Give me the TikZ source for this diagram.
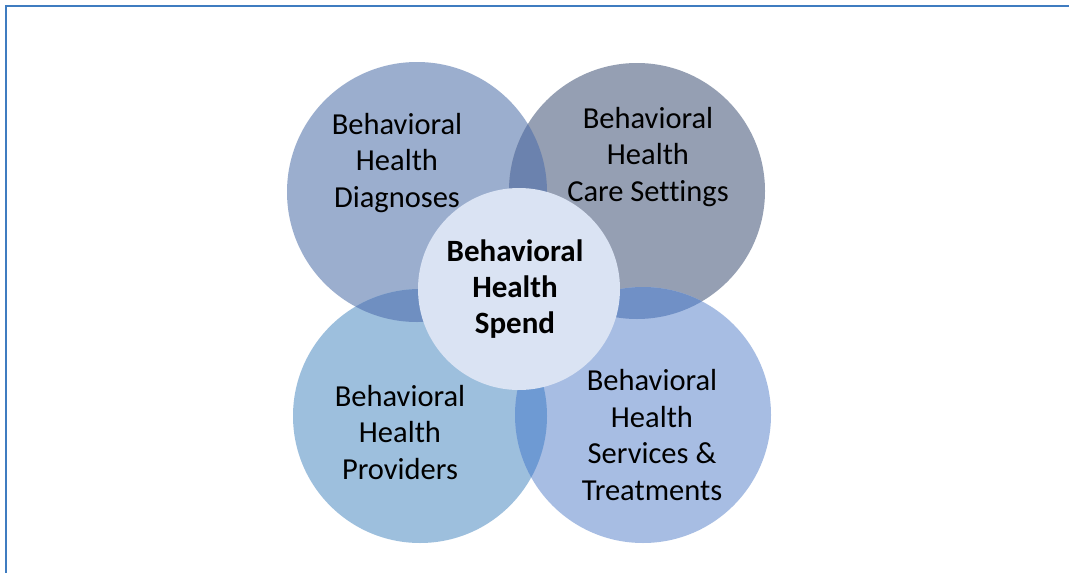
\documentclass[tikz,border=0pt]{standalone}
\usepackage{fontspec}
\setmainfont[Ligatures=NoCommon]{Carlito}
\definecolor{cTL}{HTML}{9BAECE}
\definecolor{cTR}{HTML}{959FB3}
\definecolor{cBL}{HTML}{9DBFDD}
\definecolor{cBR}{HTML}{A7BDE3}
\definecolor{cC}{HTML}{DAE3F3}
\definecolor{oTLTR}{HTML}{6B82AE}
\definecolor{oTLBL}{HTML}{6F8FC1}
\definecolor{oTRBR}{HTML}{7090C6}
\definecolor{oBLBR}{HTML}{6E9AD3}
\definecolor{frame}{HTML}{3F7CC0}
\tikzset{
  bubble/.style={circle, inner sep=0pt, draw=none},
  lbl/.style={align=center, font=\fontsize{30.5}{36.5}\selectfont, text=black, inner sep=0pt, anchor=base},
  lblb/.style={lbl, font=\fontsize{31}{36}\selectfont\bfseries},
}
\begin{document}
\begin{tikzpicture}[x=1pt,y=-1pt]
\useasboundingbox (0,0) rectangle (1069,573);
\fill[white] (0,0) rectangle (1069,573);
\draw[frame, line width=1.5pt] (6,573) -- (6,6) -- (1069,6);
\node[bubble, fill=cTL, minimum size=260pt] (tl) at (417,192) {};
\node[bubble, fill=cTR, minimum size=256pt] (tr) at (637,191) {};
\node[bubble, fill=cBL, minimum size=254pt] (bl) at (420,416) {};
\node[bubble, fill=cBR, minimum size=256pt] (br) at (643,415) {};
\begin{scope}
  \clip (tl.center) circle (130);
  \fill[oTLTR] (tr.center) circle (128);
\end{scope}
\begin{scope}
  \clip (tl.center) circle (130);
  \fill[oTLBL] (bl.center) circle (127);
\end{scope}
\begin{scope}
  \clip (tr.center) circle (128);
  \fill[oTRBR] (br.center) circle (128);
\end{scope}
\begin{scope}
  \clip (bl.center) circle (127);
  \fill[oBLBR] (br.center) circle (128);
\end{scope}
\node[bubble, fill=cC, minimum size=202pt] (c) at (519,289) {};
\node[lbl] (tltext) at (397,207) {Behavioral\\Health\\Diagnoses};
\node[lbl] (trtext) at (648,201) {Behavioral\\Health\\Care Settings};
\node[lbl] (bltext) at (400,479) {Behavioral\\Health\\Providers};
\node[lbl] (brtext) at (652,500) {Behavioral\\Health\\Services \&\\Treatments};
\node[lblb] (ctext) at (515,333) {Behavioral\\Health\\Spend};
\end{tikzpicture}
\end{document}
